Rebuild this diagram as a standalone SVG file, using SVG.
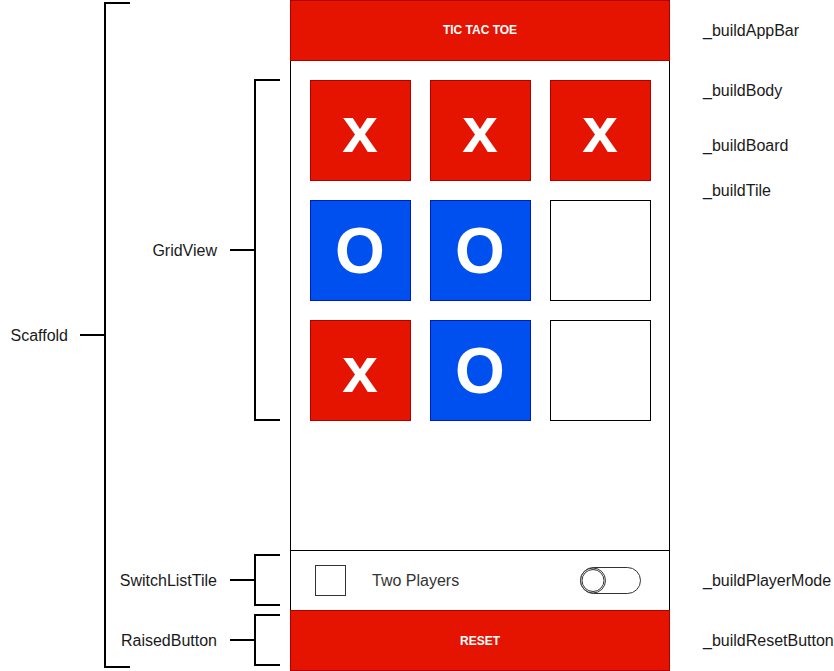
<svg xmlns="http://www.w3.org/2000/svg" width="834" height="671" viewBox="0 0 834 671">
<style>
.lbl{font-family:"Liberation Sans",Arial,sans-serif;font-size:16px;fill:#1a1a1a}
.red{fill:#e51400;stroke:#b20000;stroke-width:1}
.blue{fill:#0050ef;stroke:#001dbc;stroke-width:1}
.empty{fill:#fff;stroke:#000;stroke-width:1}
.mark{font-family:"Liberation Sans",Arial,sans-serif;font-size:64px;font-weight:bold;fill:#fff;text-anchor:middle}
.btn{font-family:"Liberation Sans",Arial,sans-serif;font-size:12px;font-weight:bold;fill:#fff;text-anchor:middle}
.br{fill:none;stroke:#000;stroke-width:2}
</style>
<rect width="834" height="671" fill="#fff"/>
<g id="body"><rect x="290.5" y="60.5" width="379" height="490" fill="#fff" stroke="#000"/></g>
<g id="appbar"><rect x="290.5" y="0.5" width="379" height="60" class="red"/><text x="480" y="34" class="btn">TIC TAC TOE</text></g>
<g id="board">
<g id="t1"><rect x="310.5" y="80.5" width="100" height="100" class="red"/><text x="360" y="152" class="mark">x</text></g>
<g id="t2"><rect x="430.5" y="80.5" width="100" height="100" class="red"/><text x="480" y="152" class="mark">x</text></g>
<g id="t3"><rect x="550.5" y="80.5" width="100" height="100" class="red"/><text x="600" y="152" class="mark">x</text></g>
<g id="t4"><rect x="310.5" y="200.5" width="100" height="100" class="blue"/><text x="360" y="273" class="mark">O</text></g>
<g id="t5"><rect x="430.5" y="200.5" width="100" height="100" class="blue"/><text x="480" y="273" class="mark">O</text></g>
<g id="t6"><rect x="550.5" y="200.5" width="100" height="100" class="empty"/></g>
<g id="t7"><rect x="310.5" y="320.5" width="100" height="100" class="red"/><text x="360" y="392" class="mark">x</text></g>
<g id="t8"><rect x="430.5" y="320.5" width="100" height="100" class="blue"/><text x="480" y="393" class="mark">O</text></g>
<g id="t9"><rect x="550.5" y="320.5" width="100" height="100" class="empty"/></g>
</g>
<g id="switchtile">
<rect x="290.5" y="550.5" width="379" height="60" fill="#fff" stroke="#000"/>
<rect x="315.5" y="565.5" width="30" height="30" fill="#fff" stroke="#333"/>
<text x="372" y="586" font-family="'Liberation Sans',Arial,sans-serif" font-size="16" fill="#333">Two Players</text>
<rect x="580.5" y="567.5" width="60" height="26" rx="13" fill="#fff" stroke="#333"/>
<circle cx="593" cy="580.5" r="12.5" fill="#fff" stroke="#333"/>
<circle cx="593" cy="580.5" r="11" fill="none" stroke="#333"/>
</g>
<g id="reset"><rect x="290.5" y="610.5" width="379" height="60" class="red"/><text x="480" y="645" class="btn">RESET</text></g>
<g id="connectors">
<path class="br" d="M130,3 H105 V667 H130 M80,335 H105"/>
<path class="br" d="M280,80 H255 V420 H280 M230,250 H255"/>
<path class="br" d="M280,555 H255 V605 H280 M230,580 H255"/>
<path class="br" d="M280,615 H255 V665 H280 M230,640 H255"/>
</g>
<g id="left-labels">
<text x="68" y="341" class="lbl" text-anchor="end">Scaffold</text>
<text x="217" y="256" class="lbl" text-anchor="end">GridView</text>
<text x="217" y="586" class="lbl" text-anchor="end">SwitchListTile</text>
<text x="217" y="646" class="lbl" text-anchor="end">RaisedButton</text>
</g>
<g id="right-labels">
<text x="703" y="36" class="lbl">_buildAppBar</text>
<text x="703" y="96" class="lbl">_buildBody</text>
<text x="703" y="151" class="lbl">_buildBoard</text>
<text x="703" y="196" class="lbl">_buildTile</text>
<text x="703" y="586" class="lbl">_buildPlayerMode</text>
<text x="703" y="646" class="lbl">_buildResetButton</text>
</g>
</svg>
